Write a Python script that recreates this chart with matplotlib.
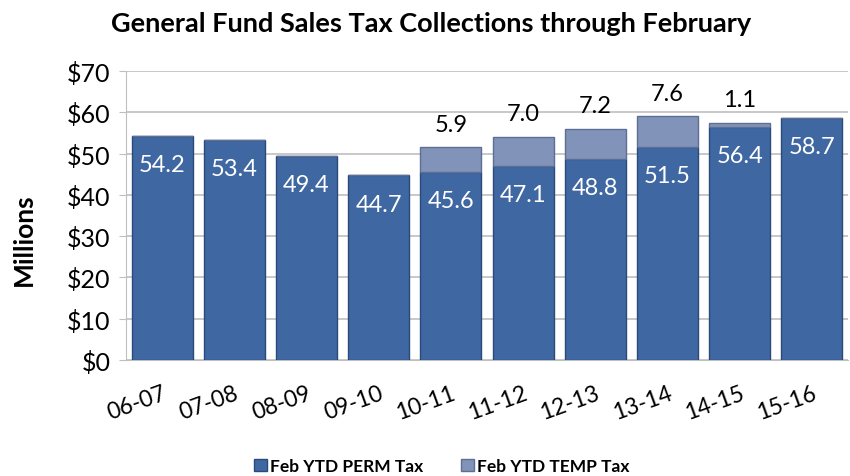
import matplotlib
matplotlib.use("Agg")
from matplotlib import pyplot as plt
import numpy as np

plt.rcParams['font.family'] = ['Lato', 'DejaVu Sans']

years = ["06-07", "07-08", "08-09", "09-10", "10-11",
         "11-12", "12-13", "13-14", "14-15", "15-16"]
perm_tax = [54.2, 53.4, 49.4, 44.7, 45.6, 47.1, 48.8, 51.5, 56.4, 58.7]
temp_tax = [0, 0, 0, 0, 5.9, 7.0, 7.2, 7.6, 1.1, 0]
y_ticks = [0, 10, 20, 30, 40, 50, 60, 70]

perm_color = '#3f67a2'
temp_color = '#8193b9'

fig = plt.figure(figsize=(8.5, 4.77), dpi=100)
ax = fig.add_axes([126/850, 1 - 361/477, 722/850, 289/477])

x = np.arange(len(years))
width = 0.845
bars_perm = ax.bar(x, perm_tax, width, color=perm_color, edgecolor='#2b4a7a',
                   linewidth=1.0, label='Feb YTD PERM Tax', zorder=3)
bars_temp = ax.bar(x, temp_tax, width, bottom=perm_tax, color=temp_color,
                   edgecolor='#5d6f95', linewidth=1.0, label='Feb YTD TEMP Tax', zorder=3)

#labels inside the perm bars
for xi, v in zip(x, perm_tax):
    ax.annotate(f"{v:.1f}", (xi, v), xytext=(0, -13), textcoords='offset points',
                ha='center', va='top', color='white', fontsize=17, zorder=5)

#labels above the temp portion
for xi, p, t in zip(x, perm_tax, temp_tax):
    if t > 0:
        ax.annotate(f"{t:.1f}", (xi, p + t), xytext=(0, 9), textcoords='offset points',
                    ha='center', va='bottom', color='black', fontsize=17, zorder=5)

ax.set_xlim(-0.5, len(years) - 0.5)
ax.set_ylim(0, 70)
ax.set_yticks(y_ticks)
ax.set_yticklabels([f"${t}" for t in y_ticks], fontsize=18)
ax.set_xticks(x)
ax.set_xticklabels(years, fontsize=16.5, rotation=20, ha='right', rotation_mode='anchor')
ax.tick_params(axis='y', length=5, color='#bfbfbf', pad=6)
ax.tick_params(axis='x', length=0, pad=16)
ax.grid(axis='y', color='#bfbfbf', linewidth=1.2, zorder=0)
ax.set_axisbelow(True)
for s in ['top', 'right']:
    ax.spines[s].set_visible(False)
ax.spines['left'].set_color('#bfbfbf')
ax.spines['bottom'].set_color('#bfbfbf')

fig.text(24/850, 1 - 240/477, 'Millions', rotation=90, ha='center', va='center',
         fontsize=19, fontweight='bold')
fig.text(431/850, 1 - 24/477, 'General Fund Sales Tax Collections through February',
         ha='center', va='center', fontsize=19.5, fontweight='bold')

leg = fig.legend(handles=[bars_perm, bars_temp], loc='center', ncol=2,
                 bbox_to_anchor=(0.52, 1 - 467/477), frameon=False,
                 prop={'weight': 'bold', 'size': 12.5}, handlelength=0.7,
                 handleheight=0.7, handletextpad=0.2, columnspacing=2.2)

fig.savefig('out.png', dpi=100)
